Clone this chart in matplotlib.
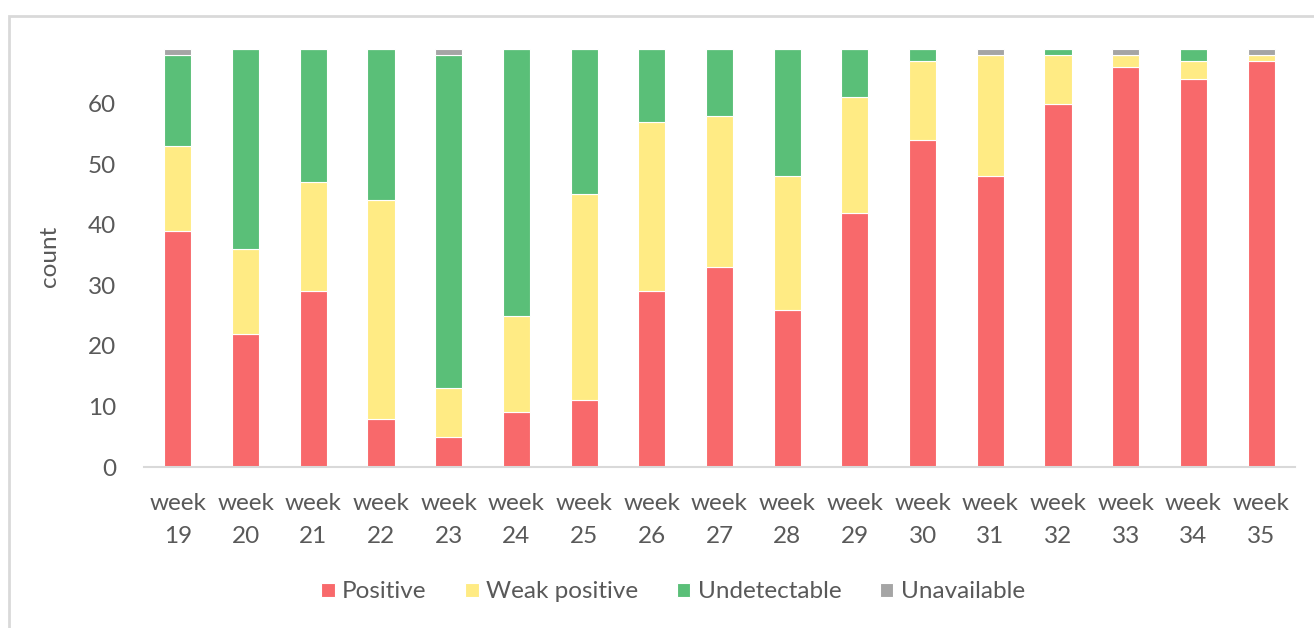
import matplotlib
matplotlib.use("Agg")
import matplotlib.pyplot as plt
from matplotlib.patches import Rectangle
import numpy as np

weeks = ["week\n19", "week\n20", "week\n21", "week\n22", "week\n23", "week\n24",
         "week\n25", "week\n26", "week\n27", "week\n28", "week\n29", "week\n30",
         "week\n31", "week\n32", "week\n33", "week\n34", "week\n35"]
positive      = [39, 22, 29, 8, 5, 9, 11, 29, 33, 26, 42, 54, 48, 60, 66, 64, 67]
weak_positive = [14, 14, 18, 36, 8, 16, 34, 28, 25, 22, 19, 13, 20, 8, 2, 3, 1]
undetectable  = [15, 33, 22, 25, 55, 44, 24, 12, 11, 21, 8, 2, 0, 1, 0, 2, 0]
unavailable   = [1, 0, 0, 0, 1, 0, 0, 0, 0, 0, 0, 0, 1, 0, 1, 0, 1]

series = [("Positive", positive, "#F8696B"),
          ("Weak positive", weak_positive, "#FFEB84"),
          ("Undetectable", undetectable, "#5ABF78"),
          ("Unavailable", unavailable, "#A5A5A5")]

plt.rcParams['font.family'] = ['Lato', 'DejaVu Sans']
txt = "#595959"
fs = 17.5

fig = plt.figure(figsize=(13.14, 6.28), dpi=100)
ax = fig.add_axes([144/1314, 1-467/628, (1295-144)/1314, (467-46)/628])

x = np.arange(len(weeks))
bottom = np.zeros(len(weeks))
handles = []
for name, vals, col in series:
    v = np.array(vals, dtype=float)
    b = ax.bar(x, v, 0.4, bottom=bottom, color=col, edgecolor="white",
               linewidth=0.8, label=name, clip_on=False)
    handles.append(b)
    bottom += v

ax.set_xlim(-0.5, len(weeks) - 0.5)
ax.set_ylim(0, 69.5)
ax.set_yticks(range(0, 61, 10))
ax.set_xticks(x)
ax.set_xticklabels(weeks, linespacing=1.7)
ax.tick_params(axis='both', length=0, labelsize=fs, labelcolor=txt)
ax.tick_params(axis='y', pad=20)
ax.tick_params(axis='x', pad=19)
for s in ["top", "right", "left"]:
    ax.spines[s].set_visible(False)
ax.spines["bottom"].set_color("#D9D9D9")
ax.spines["bottom"].set_linewidth(1.5)

ax.set_ylabel("count", fontsize=fs, color=txt, labelpad=0)
ax.yaxis.set_label_coords(-0.073, 0.5)

leg = fig.legend(handles=handles, loc="center", bbox_to_anchor=(673/1314, 1-592/628),
                 ncol=4, frameon=False, fontsize=fs, handlelength=0.55,
                 handleheight=0.55, handletextpad=0.3, columnspacing=1.6)
for t in leg.get_texts():
    t.set_color(txt)

fig.add_artist(Rectangle((9/1314, -0.5), 2, 0.5 + (1-16/628), transform=fig.transFigure,
                         fill=False, edgecolor="#D9D9D9", linewidth=2))

fig.savefig("out.png", dpi=100)
